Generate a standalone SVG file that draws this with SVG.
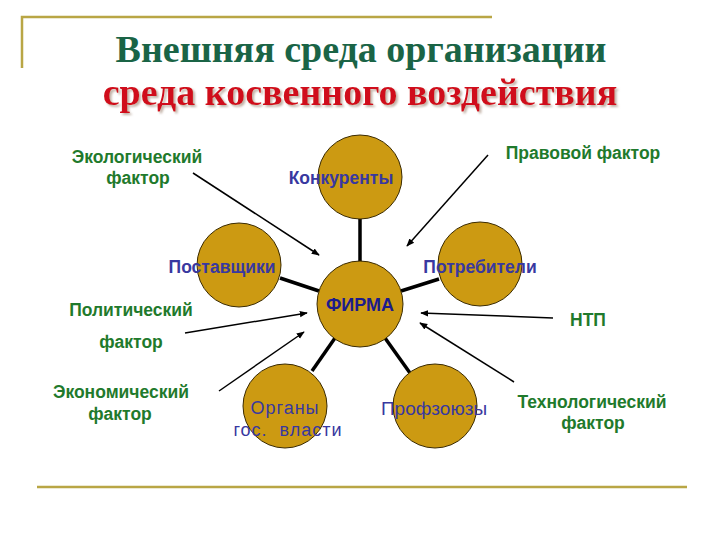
<svg xmlns="http://www.w3.org/2000/svg" width="720" height="540" viewBox="0 0 720 540">
<defs>
<style>
.rule{stroke:#b9a645;stroke-width:2.5;fill:none}
.node{fill:#cc9a12;stroke:#3a2a00;stroke-width:1}
.link{stroke:#000;stroke-width:3.5;fill:none}
.arr{stroke:#000;stroke-width:1.5;fill:none;marker-end:url(#ah)}
.lbl{font-family:"Liberation Sans",Arial,sans-serif;font-size:17.5px;font-weight:bold;fill:#3838a0;text-anchor:middle;dominant-baseline:central}
.lblr{font-family:"Liberation Sans",Arial,sans-serif;font-size:18px;fill:#3838a0;text-anchor:middle;dominant-baseline:central}
.fac{font-family:"Liberation Sans",Arial,sans-serif;font-size:17.5px;font-weight:bold;fill:#1f7a2c;text-anchor:middle;dominant-baseline:central}
.t1{font-family:"Liberation Serif","Times New Roman",serif;font-size:38px;font-weight:bold;fill:#1a6446;text-anchor:middle}
.t2{font-family:"Liberation Serif","Times New Roman",serif;font-size:38px;font-weight:bold;fill:#d0101a;text-anchor:middle;filter:url(#sh)}
</style>
<filter id="sh" x="-5%" y="-20%" width="110%" height="150%">
<feDropShadow dx="2" dy="2" stdDeviation="1" flood-color="#a89080" flood-opacity="0.7"/>
</filter>
<marker id="ah" viewBox="0 0 10 10" refX="9" refY="5" markerWidth="8" markerHeight="8" orient="auto" markerUnits="userSpaceOnUse">
<path d="M0,1 L10,5 L0,9 Z" fill="#000"/>
</marker>
</defs>
<rect width="720" height="540" fill="#fff"/>
<g id="frame">
<path class="rule" d="M22,68 V17 H492"/>
<line class="rule" x1="37" y1="487" x2="687" y2="487"/>
</g>
<g id="title">
<text class="t1" x="361" y="62">Внешняя среда организации</text>
<text class="t2" x="360" y="105">среда косвенного воздействия</text>
</g>
<g id="connectors">
<line class="link" x1="360" y1="219" x2="360" y2="262"/>
<line class="link" x1="280" y1="278" x2="319" y2="291"/>
<line class="link" x1="439" y1="279" x2="401" y2="291"/>
<line class="link" x1="312" y1="371" x2="335" y2="338"/>
<line class="link" x1="410" y1="373" x2="385" y2="338"/>
<line class="arr" x1="193" y1="173" x2="319" y2="255"/>
<line class="arr" x1="488" y1="155" x2="407" y2="246"/>
<line class="arr" x1="185" y1="333" x2="307" y2="313"/>
<line class="arr" x1="219" y1="391" x2="304" y2="332"/>
<line class="arr" x1="553" y1="318" x2="421" y2="313"/>
<line class="arr" x1="514" y1="382" x2="420" y2="323"/>
</g>
<g id="konkurenty">
<circle class="node" cx="360" cy="177" r="42"/>
<text class="lbl" x="341" y="178">Конкуренты</text>
</g>
<g id="postavshchiki">
<circle class="node" cx="239" cy="265" r="42"/>
<text class="lbl" x="222" y="267">Поставщики</text>
</g>
<g id="potrebiteli">
<circle class="node" cx="480" cy="264" r="42"/>
<text class="lbl" x="480" y="267">Потребители</text>
</g>
<g id="firma">
<circle class="node" cx="360" cy="304" r="43"/>
<text class="lbl" x="360" y="305" style="font-size:18px;fill:#1c1c8c">ФИРМА</text>
</g>
<g id="organy">
<circle class="node" cx="285" cy="406" r="42"/>
<text class="lblr" x="285" y="408" style="letter-spacing:1px">Органы</text>
<text class="lblr" x="288" y="430" style="letter-spacing:1px" xml:space="preserve">гос.  власти</text>
</g>
<g id="profsoyuzy">
<circle class="node" cx="435" cy="406" r="42"/>
<text class="lblr" x="434" y="408" style="font-size:19px">Профзоюзы</text>
</g>
<g id="factors">
<text class="fac" x="137" y="157">Экологический</text>
<text class="fac" x="138" y="178">фактор</text>
<text class="fac" x="583" y="153">Правовой фактор</text>
<text class="fac" x="131" y="310">Политический</text>
<text class="fac" x="131" y="342">фактор</text>
<text class="fac" x="121" y="392">Экономический</text>
<text class="fac" x="120" y="414">фактор</text>
<text class="fac" x="588" y="320">НТП</text>
<text class="fac" x="592" y="402">Технологический</text>
<text class="fac" x="593" y="423">фактор</text>
</g>
</svg>
